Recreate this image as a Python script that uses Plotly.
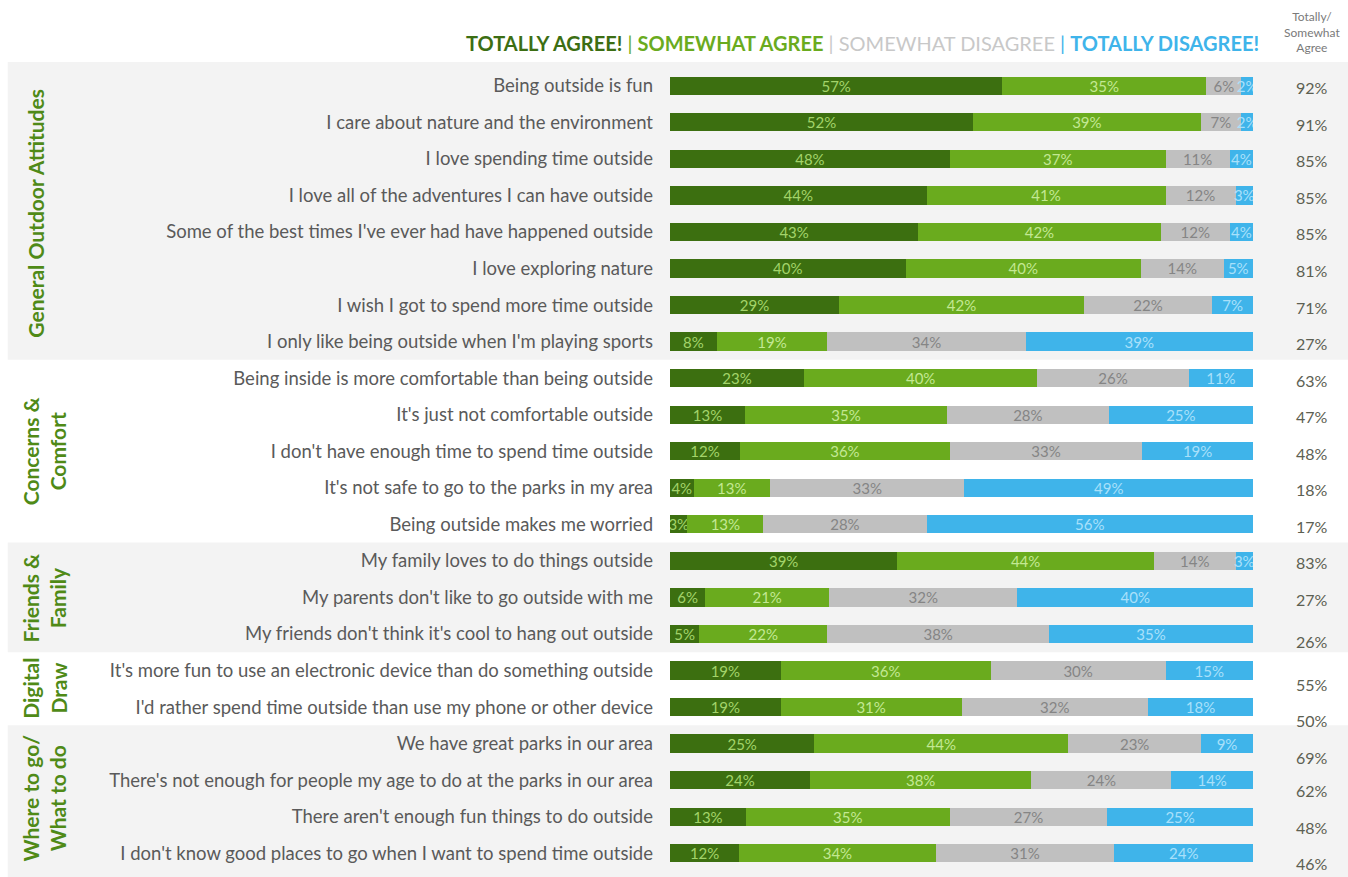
import plotly.graph_objects as go

# Survey statements, top to bottom
statements = [
    "Being outside is fun",
    "I care about nature and the environment",
    "I love spending time outside",
    "I love all of the adventures I can have outside",
    "Some of the best times I've ever had have happened outside",
    "I love exploring nature",
    "I wish I got to spend more time outside",
    "I only like being outside when I'm playing sports",
    "Being inside is more comfortable than being outside",
    "It's just not comfortable outside",
    "I don't have enough time to spend time outside",
    "It's not safe to go to the parks in my area",
    "Being outside makes me worried",
    "My family loves to do things outside",
    "My parents don't like to go outside with me",
    "My friends don't think it's cool to hang out outside",
    "It's more fun to use an electronic device than do something outside",
    "I'd rather spend time outside than use my phone or other device",
    "We have great parks in our area",
    "There's not enough for people my age to do at the parks in our area",
    "There aren't enough fun things to do outside",
    "I don't know good places to go when I want to spend time outside",
]

totally_agree = [57, 52, 48, 44, 43, 40, 29, 8, 23, 13, 12, 4, 3, 39, 6, 5, 19, 19, 25, 24, 13, 12]
somewhat_agree = [35, 39, 37, 41, 42, 40, 42, 19, 40, 35, 36, 13, 13, 44, 21, 22, 36, 31, 44, 38, 35, 34]
somewhat_disagree = [6, 7, 11, 12, 12, 14, 22, 34, 26, 28, 33, 33, 28, 14, 32, 38, 30, 32, 23, 24, 27, 31]
totally_disagree = [2, 2, 4, 3, 4, 5, 7, 39, 11, 25, 19, 49, 56, 3, 40, 35, 15, 18, 9, 14, 25, 24]
agree_total = [92, 91, 85, 85, 85, 81, 71, 27, 63, 47, 48, 18, 17, 83, 27, 26, 55, 50, 69, 62, 48, 46]

group_names = [
    "General Outdoor Attitudes",
    "Concerns &<br>Comfort",
    "Friends &<br>Family",
    "Digital<br>Draw",
    "Where to go/<br>What to do",
]
group_sizes = [8, 5, 3, 2, 4]

# small downward nudges (px) of the summary column in the lower rows
summary_nudge = [2, 2, 2, 2, 2, 2, 2, 2, 2, 2, 2, 2, 2, 2, 2, 8, 14, 13, 14, 10, 11, 10]

rows = list(range(len(statements)))

series = [
    ("Totally agree", totally_agree, "#3c6f10", "#a3d46a"),
    ("Somewhat agree", somewhat_agree, "#6aab1e", "#c3e893"),
    ("Somewhat disagree", somewhat_disagree, "#c0c0c0", "#858585"),
    ("Totally disagree", totally_disagree, "#3fb4ea", "#a9e0fa"),
]

FONT = "Lato"

fig = go.Figure()
for name, vals, color, tcolor in series:
    fig.add_trace(go.Bar(
        y=rows, x=vals, name=name, orientation="h",
        marker=dict(color=color, line=dict(width=0)),
        text=[f"{v}%" for v in vals],
        textposition="inside", insidetextanchor="middle", textangle=0,
        textfont=dict(color=tcolor, size=15, family=FONT),
        constraintext="none",
        hoverinfo="skip",
    ))

# alternating background bands per group, labels down the left side
shapes = []
annotations = []
start = 0
band_top = -0.65
band_bottom = len(statements) - 1 + 0.65
for gi, (gname, size) in enumerate(zip(group_names, group_sizes)):
    y0 = band_top if gi == 0 else start - 0.5
    end = start + size - 1
    y1 = band_bottom if gi == len(group_sizes) - 1 else end + 0.5
    if gi % 2 == 0:
        shapes.append(dict(type="rect", xref="paper", yref="y",
                           x0=-1.136, x1=1.2, y0=y0, y1=y1,
                           fillcolor="#f3f3f3", line=dict(width=0), layer="below"))
    two_line = "<br>" in gname
    label_px = 44 if two_line else 36
    annotations.append(dict(
        xref="paper", yref="y", x=(label_px - 670) / 583,
        y=(start + end) / 2, text=f"<b>{gname}</b>", textangle=-90, showarrow=False,
        font=dict(family=FONT, size=21, color="#4f8a17"), xanchor="center", yanchor="middle",
    ))
    start += size

# summary column
for r, val, nudge in zip(rows, agree_total, summary_nudge):
    annotations.append(dict(
        xref="paper", yref="y", x=(1312 - 670) / 583, y=r, yshift=-nudge,
        text=f"{val}%", showarrow=False,
        font=dict(family=FONT, size=16, color="#5c6052"), xanchor="center", yanchor="middle",
    ))

annotations.append(dict(
    xref="paper", yref="paper", x=(1312 - 670) / 583, y=1 + 30 / 815,
    text="Totally/<br>Somewhat<br>Agree", showarrow=False,
    font=dict(family=FONT, size=12, color="#7a7a7a"), xanchor="center", yanchor="middle",
))

header = (
    "<span style='color:#3c6e13'><b>TOTALLY AGREE!</b></span>"
    "<span style='color:#6aab1e'> | <b>SOMEWHAT AGREE</b> </span>"
    "<span style='color:#c8c8c8'>| SOMEWHAT DISAGREE </span>"
    "<span style='color:#3fb4ea'>| <b>TOTALLY DISAGREE!</b></span>"
)
annotations.append(dict(
    xref="paper", yref="paper", x=(862 - 670) / 583, y=1 + 19 / 815,
    text=header, showarrow=False, font=dict(family=FONT, size=20),
    xanchor="center", yanchor="middle",
))

fig.update_layout(
    barmode="stack", barnorm="percent", bargap=0.5,
    width=1348, height=877,
    margin=dict(l=670, r=95, t=62, b=0),
    paper_bgcolor="white", plot_bgcolor="rgba(0,0,0,0)",
    showlegend=False,
    uniformtext=dict(minsize=15, mode="show"),
    shapes=shapes, annotations=annotations,
    font=dict(family=FONT),
)
fig.update_xaxes(range=[0, 100], visible=False, fixedrange=True)
fig.update_yaxes(
    range=[band_bottom, band_top], tickmode="array", tickvals=rows, ticktext=statements,
    tickfont=dict(family=FONT, size=18.5, color="#5a5a5a"), showgrid=False, zeroline=False,
    showline=False, ticks="", ticklabelstandoff=16, fixedrange=True,
)

fig.write_html("out.html")
